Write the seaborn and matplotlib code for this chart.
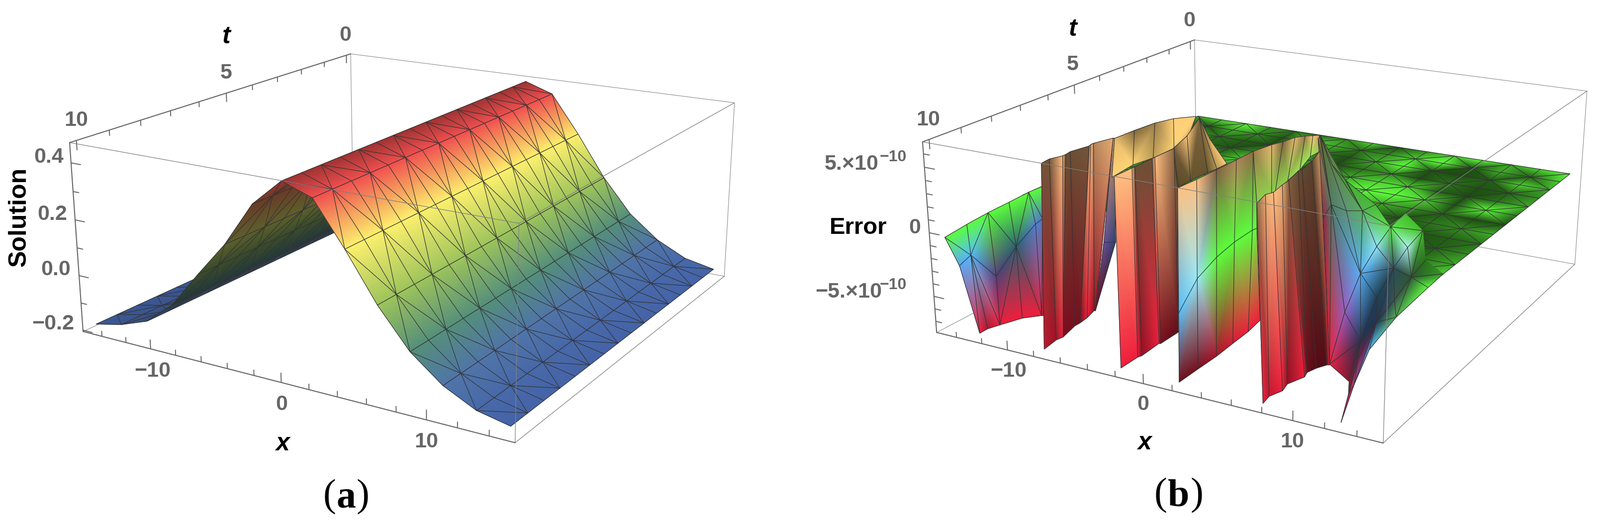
import numpy as np
import matplotlib
matplotlib.use('Agg')
import matplotlib.pyplot as plt
import seaborn as sns
from matplotlib.collections import LineCollection

# panel (a): solution surface, same x profile swept along t
sol_x = [-15, -12.86, -10.71, -8.57, -6.43, -4.29, -2.14, 0, 2.14, 4.29, 6.43, 8.57, 10.71, 12.86, 15]
sol_z = [-.182, -.160, -.124, -.042, .087, .210, .364, .457, .421, .276, .117, -.011, -.096, -.150, -.173]
sol_t = [0, .67, 1.33, 2, 2.67, 3.33, 4, 4.67, 5.33, 6, 6.67, 7.33, 8, 8.67, 9.33, 10]

# panel (b): error surface in units of 1e-10, flat sheet near zero
err_level = 0.05
sheet_x = sol_x
sheet_t = [0, .67, 1.33, 2, 2.67, 3.33, 4, 4.67, 5.33, 6, 6.67, 7.33]
sheet_light = [
    [7, 8, 9, 6, 5, 4, 6, 8, 3, 6, 8, 9, 7, 8, 9],
    [4, 3, 7, 6, 3, 8, 7, 5, 6, 8, 9, 3, 7, 4, 8],
    [6, 7, 5, 4, 3, 2, 5, 3, 7, 9, 3, 2, 4, 8, 7],
    [8, 5, 4, 3, 6, 4, 7, 2, 5, 6, 2, 5, 3, 4, 6],
    [5, 6, 7, 5, 8, 6, 4, 6, 7, 8, 8, 4, 2, 5, 7],
    [7, 5, 6, 7, 5, 7, 8, 7, 8, 9, 9, 8, 3, 9, 5],
    [6, 7, 5, 6, 7, 8, 6, 8, 9, 8, 7, 6, 4, 2, 3],
    [6, 6, 7, 5, 6, 7, 7, 7, 8, 9, 5, 3, 5, 6, 7],
    [6, 6, 6, 7, 5, 6, 7, 7, 8, 7, 6, 5, 3, 4, 5],
    [6, 6, 6, 6, 7, 6, 6, 7, 7, 6, 5, 4, 3, 4, 6],
    [6, 6, 6, 6, 6, 6, 6, 6, 6, 6, 6, 5, 4, 5, 7],
    [6, 6, 6, 6, 6, 6, 6, 6, 6, 6, 6, 5, 4, 6, 8],
]

# clipped pieces of the error surface: x, t, value, brightness per vertex
left_x = [[-14.22, -14.57, -14.83, -14.95, -15.10, -15.06], [-14.43, -14.43, -12.96, -12.30, -15.33, -15.57], [-13.15, -13.16, -12.87, -12.31, -11.48, -11.38]]
left_t = [[10.26, 9.42, 8.61, 7.84, 7.08, 6.61], [9.79, 9.41, 9.22, 8.78, 6.79, 6.42], [9.79, 9.52, 9.23, 8.70, 8.38, 8.36]]
left_z = [[0, 0, 0, 0, 0, 0], [-2.8, -2.4, -4.0, -2, -3, -3], [-7.9, -7.9, -7.9, -7.9, -7.9, -7.9]]
left_s = [[1, 1, 1, 1, 1, 1], [1, 1, .55, .45, .85, .8], [1, .75, 1, 1, 1, .8]]

wedge_x = [[-6.0, -5.9], [-10.6, -8.6], [-8.9, -8.9]]
wedge_t = [[8.1, 8.1], [6.4, 6.9], [7.6, 7.6]]
wedge_z = [[6.9, 6.9], [-4, -3], [-7.9, -7.9]]
wedge_s = [[.8, .8], [.7, .45], [.45, .45]]

plat1_x = [[-8.2, -8.1, -7.9, -7.4, -6.4], [-4.5, -4.8, -4.5, -4.5, -5.1]]
plat1_t = [[7.0, 6.3, 5.6, 5.1, 4.7], [8.9, 8.0, 7.4, 6.6, 5.7]]
plat1_z = [[5.5, 5.5, 5.5, 5.5, 5.5], [5, 5, 5, 5, 5]]
plat1_s = [[.9, .5, .6, 1, 1], [1, 1, .75, 1, .8]]

fold_x = [[-3.0, -3.7, -5.2, -5.2, -2.0], [0.0, -0.1, 0.0, 0.1, 0.1]]
fold_t = [[7.4, 6.5, 5.2, 5.2, 6.5], [8.8, 8.3, 7.7, 7.4, 7.0]]
fold_z = [[6, 6, 6, 6, 6], [5, 5, 5, 5, 5]]
fold_s = [[.45, 1, .5, .5, .9], [.35, .4, .4, .7, 1]]

wall1_x = [[-6.7, -6.8, -6.5, -6.5, -6.6, -6.3, -6.4, -6.4, -6.0], [-8.1, -8.3, -8.2, -8.2, -8.6, -8.6, -8.7, -9.0, -8.9]]
wall1_t = [[10.2, 9.9, 9.6, 9.5, 9.3, 8.8, 8.7, 8.6, 8.1], [9.8, 9.3, 9.1, 9.1, 8.5, 8.3, 8.0, 7.6, 7.6]]
wall1_z = [[6.9] * 9, [-7.9] * 9]
wall1_s = [[.45, .45, 1, .42, .42, .45, 1, .7, .9], [.8, .65, 1, .5, .5, .5, 1, .6, .6]]

wall2_x = [[-1.6, -1.6, -1.6, -1.6, -1.6, -1.6, 2.6], [-2.4, -2.4, -2.3, -2.4, -2.3, -2.3, -2.3]]
wall2_t = [[10.2, 9.6, 9.5, 8.9, 8.8, 8.1, 10.2], [9.8, 9.2, 9.1, 8.4, 8.4, 7.7, 7.7]]
wall2_z = [[6.9] * 7, [-7.9] * 7]
wall2_s = [[1, 1, .42, .42, 1, .55, .55], [1, 1, .6, 1, .5, .4, .4]]

plat2_x = [[1.6, 1.9, 2.2, 2.4, 2.8, 3.2, 3.5], [1.1, 0.9, 1.0, 0.6, 0.2, -0.6, -0.6]]
plat2_t = [[6.8, 6.2, 5.9, 5.5, 5.3, 5.2, 5.1], [6.4, 5.6, 5.5, 4.7, 3.9, 2.9, 2.4]]
plat2_z = [[6] * 7, [1.5] * 7]
plat2_s = [[.6, .9, .5, .9, .6, 1, .8], [.9, .9, .9, .9, 1, 1, .9]]

wall3_x = [[2.66, 2.77, 2.80, 2.84, 2.84, 1.09], [2.11, 1.21, 2.10, 1.70, 1.58, 1.90], [1.73, 1.72, 1.73, 1.61, 1.52, 1.26]]
wall3_t = [[10.21, 9.60, 8.90, 8.17, 7.51, 6.35], [9.97, 8.80, 8.54, 7.62, 6.82, 6.82], [9.80, 9.09, 8.39, 7.66, 6.97, 6.31]]
wall3_z = [[6.9, 6.9, 6.9, 6.9, 6.9, 1.5], [-2.4, -1.5, 0, 0, 0, .2], [-7.9] * 6]
wall3_s = [[1, 1, .5, .7, .55, .7], [1, 1, 1, 1, 1, 1], [.45, .5, .7, .9, 1, 1]]

wall4_x = [[7.78, 7.47, 7.67, 7.45, 7.38, 7.01, 7.09, 6.80, 6.30], [7.45, 7.30, 7.62, 7.42, 7.84, 7.67, 7.87, 8.21, 8.35]]
wall4_t = [[10.25, 9.75, 9.57, 9.10, 8.81, 8.20, 8.10, 7.52, 6.87], [9.83, 9.50, 9.16, 8.84, 8.39, 8.18, 7.91, 7.67, 7.64]]
wall4_z = [[6.9] * 9, [-7.9] * 9]
wall4_s = [[.55, .9, 1, .9, .5, .4, .38, .35, .8], [1, .8, 1, .6, 1, .45, .35, .35, 1]]

fan_x = [[2.50, 1.01, -1.59, 0.34, 2.24], [-2.81, 2.48, 3.93, 5.39, 6.13], [8.30, 8.77, 8.27, 8.05, 8.64]]
fan_t = [[4.51, 3.48, 1.76, 2.41, 2.93], [0.78, 3.83, 4.04, 4.24, 4.10], [7.61, 7.28, 6.25, 5.35, 5.10]]
fan_z = [[5, 4, 2, .5, 0], [-6.5, -1, -1, -.5, 0], [-7.9, -4.2, -2.6, -1.6, -.2]]
fan_s = [[.6, .5, .5, .5, .7], [.7, .5, .6, .7, .75], [1, .9, 1, 1, .9]]

desc_x = [[8.64, 11.16, 11.49, 12.46], [8.77, 12.34, 11.04, 13.16], [8.27, 10.93, 12.13, 13.96], [8.05, 10.39, 13.14, 14.98], [8.64, 10.09, 13.02, 15.05], [8.52, 10.86, 13.14, 14.95]]
desc_t = [[7.83, 8.64, 8.88, 9.83], [7.28, 8.99, 8.19, 9.78], [6.25, 7.33, 8.16, 9.73], [5.35, 6.18, 8.10, 9.35], [5.10, 5.29, 7.26, 7.99], [4.31, 5.13, 6.69, 7.20]]
desc_z = [[-7.5, -7, -7.5, -7.9], [-4.2, -3.2, -6, -5], [-2.6, -2.5, -3, -2.4], [-1.6, -1.8, -1.2, -.4], [-.2, -1.3, -.6, 0], [0, 0, 0, 0]]
desc_s = [[1, .55, .8, .8], [.9, .35, .6, .9], [1, .35, .35, 1], [1, .35, .35, .7], [.9, 1, .35, 1], [.75, .75, .45, .6]]

# ticks
x_major = [-10, 0, 10]
x_minor = [-14, -12, -8, -6, -4, -2, 2, 4, 6, 8, 12, 14]
t_major = [0, 5, 10]
t_minor = [1, 2, 3, 4, 6, 7, 8, 9]
sol_major = [-.2, 0, .2, .4]
sol_minor = [-.1, .1, .3]
err_major = [-5, 0, 5]
err_minor = [-7, -6, -4, -3, -2, -1, 1, 2, 3, 4, 6]

# box limits and where the box corners land on the page
sol_range = ((-15.6, 15.6), (-.2, 10.2), (-.205, .47))
sol_corners = {(0, 1, 0): (167, 666), (0, 1, 1): (140, 287), (0, 0, 1): (705, 108), (1, 1, 0): (1036, 890),
               (1, 1, 1): (1043, 448), (1, 0, 1): (1477, 207), (1, 0, 0): (1456, 555)}
err_range = ((-15.6, 15.6), (-.2, 10.2), (-7.9, 6.9))
err_corners = {(0, 1, 0): (1883, 666), (0, 1, 1): (1855, 285), (0, 0, 1): (2402, 79), (1, 1, 0): (2781, 891),
               (1, 1, 1): (2794, 456), (1, 0, 1): (3190, 183), (1, 0, 0): (3167, 529), (0, 0, 0): (2406, 396)}

sol_cmap = sns.blend_palette(['#4260A8', '#5074AA', '#55907A', '#9CC45C', '#D8E068', '#FDF26E', '#FF9E60', '#F15050', '#BC3C3C'], n_colors=256, as_cmap=True)
sol_stops = [-.19, -.1, -.01, .117, .2, .276, .35, .421, .457]
err_cmap = sns.blend_palette(['#F01E3C', '#D03878', '#A868D8', '#6098F0', '#50C8FF', '#B0F4F4', '#5CFF3C', '#B8E060', '#FFE070', '#FFC080'], n_colors=256, as_cmap=True)
err_stops = [-7.9, -6, -4.2, -3, -2.2, -1.3, 0, 2, 4, 6.9]

GRID = '#333333'
TICK = '#666666'

sns.set_theme(style='white')
plt.rcParams['font.family'] = ['Liberation Sans', 'DejaVu Sans']

fig = plt.figure(figsize=(32.17, 10.55), dpi=100)
ax = fig.add_axes([0, 0, 1, 1])
ax.set_xlim(0, 3217)
ax.set_ylim(1055, 0)
ax.axis('off')

order = [10]


def next_z():
    order[0] += 1
    return order[0]


def fit_camera(corners, rng):
    rows = []
    for (i, j, k), (u, v) in corners.items():
        p = [rng[0][i], rng[1][j], rng[2][k], 1]
        rows.append(p + [0, 0, 0, 0] + [-u * c for c in p])
        rows.append([0, 0, 0, 0] + p + [-v * c for c in p])
    return np.linalg.svd(np.array(rows, float))[2][-1].reshape(3, 4)


def project(cam, x, t, z):
    x, t, z = np.asarray(x, float), np.asarray(t, float), np.asarray(z, float)
    w = cam[2, 0] * x + cam[2, 1] * t + cam[2, 2] * z + cam[2, 3]
    u = (cam[0, 0] * x + cam[0, 1] * t + cam[0, 2] * z + cam[0, 3]) / w
    v = (cam[1, 0] * x + cam[1, 1] * t + cam[1, 2] * z + cam[1, 3]) / w
    return u, v


def draw_strip(cam, cmap, stops, X, T, Z, S, diag=False, flip=0, lw=.85, open_last=False):
    X, T, Z, S = [np.asarray(a, float) for a in (X, T, Z, S)]
    nr, nc = X.shape
    u, v = project(cam, X, T, Z)
    pos = np.interp(Z, stops, np.linspace(0, 1, len(stops)))
    rgba = cmap(pos.ravel()).copy()
    rgba[:, :3] = np.clip(rgba[:, :3] * S.ravel()[:, None], 0, 1)
    tris, segs = [], []
    for r in range(nr - 1):
        for c in range(nc - 1):
            a, b, d, e = r * nc + c, r * nc + c + 1, (r + 1) * nc + c, (r + 1) * nc + c + 1
            if (r + c + flip) % 2 == 0:
                tris += [[a, b, e], [a, e, d]]
                pair = (a, e)
            else:
                tris += [[a, b, d], [b, e, d]]
                pair = (b, d)
            if diag:
                segs.append([(u.ravel()[pair[0]], v.ravel()[pair[0]]), (u.ravel()[pair[1]], v.ravel()[pair[1]])])
    mesh = ax.tripcolor(u.ravel(), v.ravel(), np.array(tris), np.zeros(nr * nc), shading='gouraud')
    mesh.set_array(None)
    mesh.set_facecolor(rgba)
    mesh.set_zorder(next_z())
    for r in range(nr - 1 if open_last else nr):
        segs.append(np.column_stack([u[r], v[r]]))
    for c in range(nc):
        segs.append(np.column_stack([u[:, c], v[:, c]]))
    ax.add_collection(LineCollection(segs, colors=GRID, linewidths=lw, zorder=next_z(), capstyle='round'), autolim=False)


def box_lines(cam, rng, edges, color, lw):
    for c0, c1 in edges:
        p0 = [rng[i][c0[i]] for i in range(3)]
        p1 = [rng[i][c1[i]] for i in range(3)]
        u, v = project(cam, *zip(p0, p1))
        ax.plot(u, v, color=color, lw=lw, zorder=next_z(), solid_capstyle='round')


BACK = [((0, 0, 1), (0, 0, 0)), ((0, 0, 0), (1, 0, 0)), ((0, 0, 0), (0, 1, 0)), ((0, 0, 1), (1, 0, 1)), ((1, 0, 1), (1, 0, 0))]
THIN = [((0, 1, 1), (1, 1, 1)), ((1, 1, 1), (1, 1, 0)), ((1, 1, 1), (1, 0, 1)), ((1, 1, 0), (1, 0, 0))]
HEAVY = [((0, 1, 0), (1, 1, 0)), ((0, 1, 0), (0, 1, 1)), ((0, 1, 1), (0, 0, 1))]


def draw_ticks(cam, rng, xs_major, xs_minor, ts_major, ts_minor, zs_major, zs_minor):
    zspan = rng[2][1] - rng[2][0]
    xspan = rng[0][1] - rng[0][0]
    segs = []
    for vals, frac in ((xs_major, .05), (xs_minor, .03)):
        for x in vals:
            u, v = project(cam, [x, x], [rng[1][1]] * 2, [rng[2][0], rng[2][0] + frac * zspan])
            segs.append(np.column_stack([u, v]))
    for vals, frac in ((ts_major, .05), (ts_minor, .03)):
        for t in vals:
            u, v = project(cam, [rng[0][0]] * 2, [t, t], [rng[2][1], rng[2][1] - frac * zspan])
            segs.append(np.column_stack([u, v]))
    for vals, frac in ((zs_major, .026), (zs_minor, .016)):
        for z in vals:
            u, v = project(cam, [rng[0][0], rng[0][0] + frac * xspan], [rng[1][1]] * 2, [z, z])
            segs.append(np.column_stack([u, v]))
    ax.add_collection(LineCollection(segs, colors=TICK, linewidths=1.4, zorder=next_z()), autolim=False)


def label(x, y, s, size=31, color=TICK, **kw):
    kw.setdefault('fontweight', 'bold')
    ax.text(x, y, s, fontsize=size, color=color, ha='center', va='center', zorder=900, **kw)


# panel (a)
cam_a = fit_camera(sol_corners, sol_range)
box_lines(cam_a, sol_range, BACK, '#8c8c8c', .8)
slope = np.gradient(sol_z, sol_x)
light = 1 - .58 * np.clip(slope / .05, 0, 1)
for i in range(len(sol_x) - 1):
    nt = len(sol_t)
    draw_strip(cam_a, sol_cmap, sol_stops,
               [[sol_x[i], sol_x[i + 1]]] * nt,
               [[t, t] for t in sol_t],
               [[sol_z[i], sol_z[i + 1]]] * nt,
               [[light[i], light[i + 1]]] * nt,
               diag=True, flip=i)
box_lines(cam_a, sol_range, THIN, '#808080', .9)
box_lines(cam_a, sol_range, HEAVY, TICK, 1.5)
draw_ticks(cam_a, sol_range, x_major, x_minor, t_major, t_minor, sol_major, sol_minor)

label(455, 74, 't', 36, 'black', fontstyle='italic')
label(694, 71, '0')
label(455, 147, '5')
label(153, 242, '10')
label(98, 316, '0.4')
label(105, 431, '0.2')
label(112, 542, '0.0')
label(107, 651, '\u22120.2')
ax.text(39, 436, 'Solution', fontsize=36, fontweight='bold', color='black', rotation=90, ha='center', va='center', zorder=900)
label(307, 746, '\u221210')
label(566, 813, '0')
label(568, 892, 'x', 36, 'black', fontstyle='italic')
label(857, 888, '10')

# panel (b)
cam_b = fit_camera(err_corners, err_range)
box_lines(cam_b, err_range, BACK, '#8c8c8c', .8)
sheet_shade = .3 + .7 * ((np.array(sheet_light, float) - 2) / 7) ** 1.8
draw_strip(cam_b, err_cmap, err_stops,
           [sheet_x for _ in sheet_t],
           [[t] * len(sheet_x) for t in sheet_t],
           np.full(sheet_shade.shape, err_level),
           sheet_shade, diag=True)
draw_strip(cam_b, err_cmap, err_stops, left_x, left_t, left_z, left_s, diag=True)
draw_strip(cam_b, err_cmap, err_stops, wedge_x, wedge_t, wedge_z, wedge_s)
draw_strip(cam_b, err_cmap, err_stops, plat1_x, plat1_t, plat1_z, plat1_s)
draw_strip(cam_b, err_cmap, err_stops, fold_x, fold_t, fold_z, fold_s)
draw_strip(cam_b, err_cmap, err_stops, wall1_x, wall1_t, wall1_z, wall1_s)
draw_strip(cam_b, err_cmap, err_stops, wall2_x, wall2_t, wall2_z, wall2_s)
draw_strip(cam_b, err_cmap, err_stops, plat2_x, plat2_t, plat2_z, plat2_s)
draw_strip(cam_b, err_cmap, err_stops, wall3_x, wall3_t, wall3_z, wall3_s)
draw_strip(cam_b, err_cmap, err_stops, fan_x, fan_t, fan_z, fan_s, diag=True)
draw_strip(cam_b, err_cmap, err_stops, desc_x, desc_t, desc_z, desc_s, diag=True, open_last=True)
draw_strip(cam_b, err_cmap, err_stops, wall4_x, wall4_t, wall4_z, wall4_s)
box_lines(cam_b, err_range, THIN, '#808080', .9)
box_lines(cam_b, err_range, HEAVY, TICK, 1.5)
draw_ticks(cam_b, err_range, x_major, x_minor, t_major, t_minor, err_major, err_minor)

label(2157, 59, 't', 36, 'black', fontstyle='italic')
label(2391, 42, '0')
label(2157, 130, '5')
label(1866, 241, '10')
label(1839, 458, '0')
label(1726, 458, 'Error', 34, 'black')
label(1712, 330, '5.\u00d710')
label(1796, 316, '\u221210', 23)
label(1706, 587, '\u22125.\u00d710')
label(1796, 573, '\u221210', 23)
label(2028, 746, '\u221210')
label(2298, 813, '0')
label(2301, 890, 'x', 36, 'black', fontstyle='italic')
label(2598, 888, '10')

# subfigure captions
for cx, cy, letter, gap in ((696, 999, 'a', 33), (2370, 996, 'b', 36)):
    ax.text(cx - gap, cy, '(', fontsize=56, family='Liberation Serif', color='black', ha='center', va='center')
    ax.text(cx, cy + 2, letter, fontsize=56, family='Liberation Serif', fontweight='bold', color='black', ha='center', va='center')
    ax.text(cx + gap, cy, ')', fontsize=56, family='Liberation Serif', color='black', ha='center', va='center')

fig.savefig('out.png', dpi=100, facecolor='white')
